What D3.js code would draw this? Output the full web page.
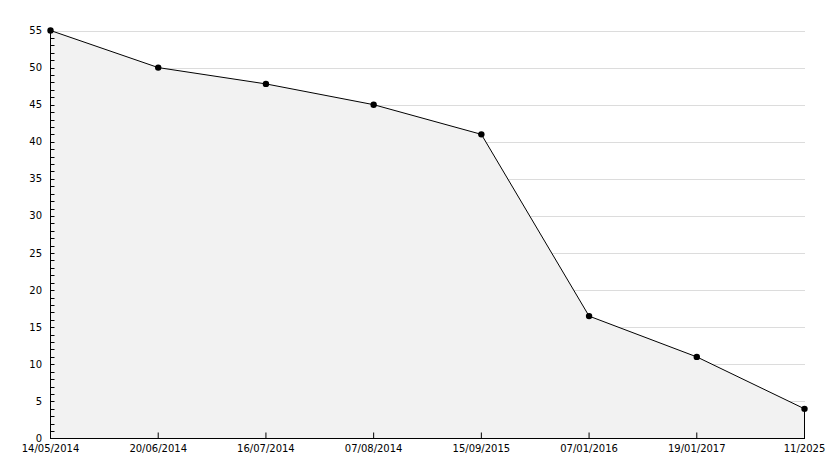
<!DOCTYPE html>
<html><head><meta charset="utf-8">
<script src="https://cdn.jsdelivr.net/npm/d3@7"></script>
<style>body{margin:0;background:#fff}svg{display:block}text{font-family:"DejaVu Sans",sans-serif;font-size:10px;fill:#000}</style>
</head><body><svg id="c" width="834" height="468"></svg>
<script>
const categories = ["14/05/2014","20/06/2014","16/07/2014","07/08/2014","15/09/2015","07/01/2016","19/01/2017","11/2025"];
const values = [55, 50, 47.8, 45, 41, 16.5, 11, 4];
const yTicks = [0,5,10,15,20,25,30,35,40,45,50,55];

const svg = d3.select("#c");
const x = d3.scalePoint().domain(categories).range([50.5, 804.5]);
const y = d3.scaleLinear().domain([0, 55]).range([438.5, 30.5]);
const data = categories.map((c,i)=>({c, v: values[i]}));

// grid
svg.append("g").selectAll("line").data(yTicks.filter(d=>d>0)).join("line")
  .attr("x1", 50).attr("x2", 805).attr("y1", d=>Math.round(y(d))+0.5).attr("y2", d=>Math.round(y(d))+0.5)
  .attr("stroke", "#dcdcdc").attr("stroke-width", 1);

// area
svg.append("path").datum(data)
  .attr("d", d3.area().x(d=>x(d.c)).y0(y(0)).y1(d=>y(d.v)))
  .attr("fill", "#f2f2f2");

// line
svg.append("path").datum(data)
  .attr("d", d3.line().x(d=>x(d.c)).y(d=>y(d.v)))
  .attr("fill", "none").attr("stroke", "#000").attr("stroke-width", 1);

// right vertical edge
svg.append("line").attr("x1", x(categories[categories.length-1])).attr("x2", x(categories[categories.length-1]))
  .attr("y1", y(values[values.length-1])).attr("y2", y(0)).attr("stroke", "#000");

// y axis
const ya = svg.append("g");
ya.append("line").attr("x1", 50.5).attr("x2", 50.5).attr("y1", y(55)).attr("y2", y(0)+0.5).attr("stroke", "#000");
ya.selectAll("line.minor").data(d3.range(1,55)).join("line").attr("class","minor")
  .attr("x1", 50.5).attr("x2", 54.5).attr("y1", d=>Math.round(y(d))+0.5).attr("y2", d=>Math.round(y(d))+0.5).attr("stroke","#000");
ya.selectAll("text").data(yTicks).join("text")
  .attr("x", 42).attr("y", d=>y(d)).attr("dy", "0.35em").attr("text-anchor", "end").text(d=>d);

// x axis
const xa = svg.append("g");
xa.append("line").attr("x1", 50).attr("x2", 805).attr("y1", y(0)).attr("y2", y(0)).attr("stroke", "#000");
xa.selectAll("line.t").data(categories).join("line").attr("class","t")
  .attr("x1", d=>x(d)).attr("x2", d=>x(d)).attr("y1", y(0)).attr("y2", y(0)-6).attr("stroke","#000");
xa.selectAll("text").data(categories).join("text")
  .attr("x", d=>x(d)).attr("y", 452).attr("text-anchor", "middle").text(d=>d);

// markers
svg.append("g").selectAll("circle").data(data).join("circle")
  .attr("cx", d=>x(d.c)).attr("cy", d=>y(d.v)).attr("r", 3.2).attr("fill", "#000");
</script></body></html>
